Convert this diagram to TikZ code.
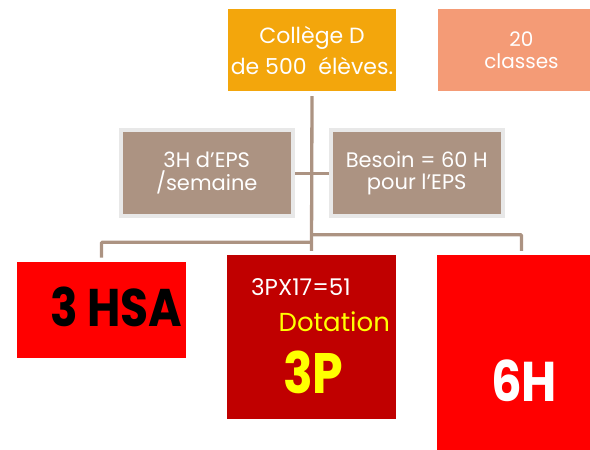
\documentclass[tikz,border=0pt]{standalone}
\usepackage{fontspec}
\setmainfont{Poppins}
\newfontfamily\grosse{Poppins}[FakeStretch=0.86]
\usetikzlibrary{positioning}
\definecolor{orangeD}{HTML}{F3A60C}
\definecolor{saumon}{HTML}{F49B76}
\definecolor{taupe}{HTML}{AC9382}
\definecolor{grisbord}{HTML}{E8E8E8}
\definecolor{rougefonce}{HTML}{C00000}
\definecolor{jaune}{HTML}{FFFF00}
\tikzset{
  haut/.style={minimum width=168,minimum height=82,inner sep=0,align=center,
    text=white},
  moyen/.style={fill=taupe,draw=grisbord,line width=4,minimum width=172.5,
    minimum height=86,inner sep=0,align=center,text=white,
    font=\fontsize{21}{22.7}\selectfont},
  bas/.style={minimum width=169,inner sep=0},
  texte/.style={anchor=base west,inner sep=0},
  lien/.style={draw=taupe,line width=3.3,rounded corners=1},
}
\begin{document}
\begin{tikzpicture}[x=1pt,y=-1pt]
  \useasboundingbox (0,0) rectangle (590,450);
  \clip (0,0) rectangle (590,450);
  % haut
  \node[haut,fill=orangeD,font=\fontsize{22}{27}\selectfont] (college)
    at (312,50) {Collège D\\[4pt]de 500~~élèves.};
  \node[haut,fill=saumon,font=\fontsize{20}{21.7}\selectfont] (classes)
    at (521.5,50) {20\\classes};
  % milieu
  \node[moyen] (heures) at (206.75,173.2) {3H d'EPS\\/semaine};
  \node[moyen] (besoin) at (416.75,173.2) {Besoin = 60 H\\pour l'EPS};
  % bas
  \node[bas,fill=red,minimum height=95.4] (hsa) at (101.5,310) {};
  \node[bas,fill=rougefonce,minimum height=164] (dotation) at (311.5,337.3) {};
  \node[bas,fill=red,minimum height=209.4] (sixh) at (521.5,360) {};
  % liens
  \coordinate (jg) at (312,242.3);
  \coordinate (jd) at (312,234.7);
  \draw[lien] ([yshift=-5pt]college.south) -- ([yshift=4.3pt]dotation.north);
  \draw[lien] (heures.east) -- (besoin.west);
  \draw[lien] (jg) -| ([yshift=4.6pt]hsa.north);
  \draw[lien] (jd) -| ([yshift=4.3pt]sixh.north);
  % textes
  \node[texte,font=\fontsize{53}{53}\grosse\bfseries] (tHSA) at (50,326.7) {3 HSA};
  \node[texte,text=white,font=\fontsize{23}{23}\selectfont] (tCalcul)
    at (251,295) {3PX17=51};
  \node[texte,text=jaune,font=\fontsize{26}{26}\selectfont] (tDot)
    at (278.5,331.7) {Dotation};
  \node[texte,text=jaune,font=\fontsize{57}{57}\grosse\bfseries] (t3P)
    at (283,393.3) {3P};
  \node[texte,text=white,font=\fontsize{56}{56}\grosse\bfseries] (t6H)
    at (491,401.7) {6H};
\end{tikzpicture}
\end{document}
